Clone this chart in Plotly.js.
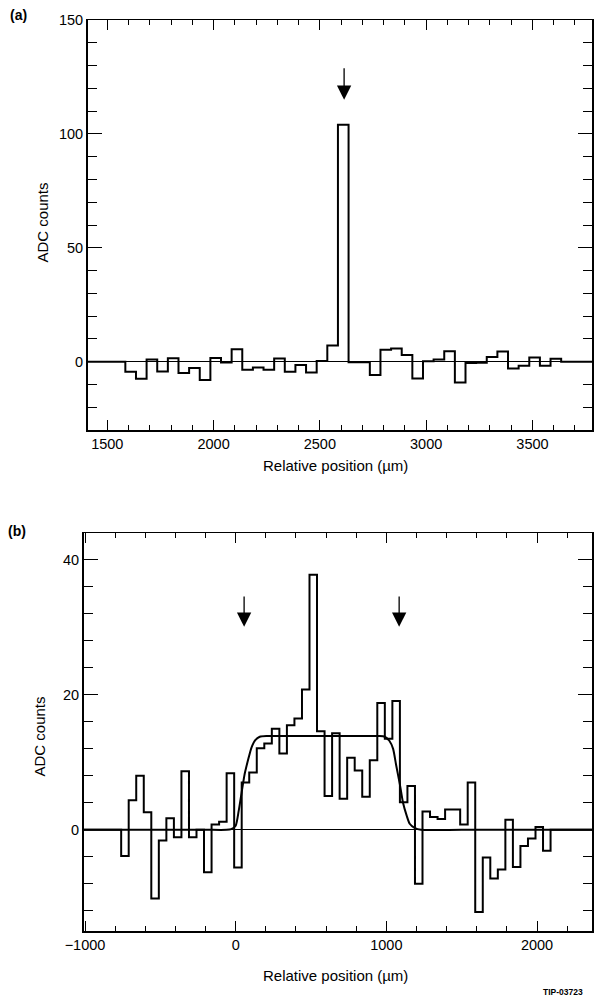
<!DOCTYPE html>
<html>
<head>
<meta charset="utf-8">
<script src="https://cdn.plot.ly/plotly-3.0.1.min.js"></script>
<style>html,body{margin:0;padding:0;background:#fff;}#chart{width:596px;height:1000px;}</style>
</head>
<body>
<div id="chart"></div>
<script>
// ---------- Panel (a) data ----------
const binWidthA = 50;
const centersA = [1610,1660,1710,1760,1810,1860,1910,1960,2010,2060,2110,2160,2210,2260,2310,2360,2410,2460,2510,2560,2610,2660,2710,2760,2810,2860,2910,2960,3010,3060,3110,3160,3210,3260,3310,3360,3410,3460,3510,3560,3610];
const countsA = [-4.4,-7.5,1.0,-4.3,1.5,-5.0,-2.8,-8.0,1.6,-0.4,5.4,-3.5,-2.6,-3.5,1.4,-4.4,-1.5,-4.8,0.3,7.1,104,-0.3,-0.3,-5.9,5.2,5.8,2.9,-7.4,0.2,1.0,4.6,-9.1,-0.6,-0.5,2.0,4.5,-3.0,-1.8,1.8,-1.8,1.3];
const rangeXA = [1407, 3780];
const rangeYA = [-30, 150];
const arrowA = {x: 2614, tip: 115, tail: 129.5};

// ---------- Panel (b) data ----------
const binWidthB = 50;
const centersB = [-735,-685,-635,-585,-535,-485,-435,-385,-335,-285,-235,-185,-135,-85,-35,15,65,115,165,215,265,315,365,415,465,515,565,615,665,715,765,815,865,915,965,1015,1065,1115,1165,1215,1265,1315,1365,1415,1465,1515,1565,1615,1665,1715,1765,1815,1865,1915,1965,2015,2065];
const countsB = [-3.9,4.4,8.0,2.6,-10.2,-1.6,1.7,-1.1,8.7,-1.1,0,-6.3,0.8,1.2,8.4,-5.6,7.0,8.5,12.1,12.8,15.0,11.3,15.5,16.5,20.8,37.8,14.6,5.0,14.3,4.6,10.7,8.8,4.9,10.3,18.8,13.5,19.1,4.1,6.5,-8.0,2.7,1.9,1.6,3.0,3.0,0.8,7.0,-12.2,-4.1,-7.2,-5.9,1.5,-5.5,-2.4,-1.3,0.4,-3.1];
const fitX = [-1010,-200,-60,-30,0,20,40,60,85,105,130,160,210,400,700,950,990,1020,1045,1065,1090,1110,1135,1155,1190,1230,1500,2365];
const fitY = [0,0,0,0.1,0.6,2.8,5.6,8.3,10.6,12.2,13.3,13.8,13.9,13.9,13.9,13.9,13.8,13.2,12.0,9.6,6.7,4.1,2.1,0.9,0.25,0,0,0];
const rangeXB = [-1010, 2365];
const rangeYB = [-15, 44];
const arrowsB = [{x: 56, tip: 30.1, tail: 34.8}, {x: 1085, tip: 30.1, tail: 34.8}];

const xTitle = 'Relative position (µm)';
const yTitle = 'ADC counts';

// Build step outline (zero outside the binned region)
function stepTrace(centers, counts, width, range) {
  const xs = [range[0]], ys = [0];
  for (let i = 0; i < centers.length; i++) { xs.push(centers[i] - width / 2); ys.push(counts[i]); }
  xs.push(centers[centers.length - 1] + width / 2); ys.push(0);
  xs.push(range[1]); ys.push(0);
  return xs.map((v, i) => [v, ys[i]]);
}
const sA = stepTrace(centersA, countsA, binWidthA, rangeXA);
const sB = stepTrace(centersB, countsB, binWidthB, rangeXB);

const FONT = 'Liberation Sans, Arial, Helvetica, sans-serif';

const traces = [
  {x: sA.map(p => p[0]), y: sA.map(p => p[1]), type: 'scatter', mode: 'lines',
   line: {color: '#000', width: 2, shape: 'hv'}, xaxis: 'x', yaxis: 'y', hoverinfo: 'skip'},
  {x: sB.map(p => p[0]), y: sB.map(p => p[1]), type: 'scatter', mode: 'lines',
   line: {color: '#000', width: 2, shape: 'hv'}, xaxis: 'x2', yaxis: 'y2', hoverinfo: 'skip'},
  {x: fitX, y: fitY, type: 'scatter', mode: 'lines',
   line: {color: '#000', width: 2, shape: 'spline', smoothing: 0.6}, xaxis: 'x2', yaxis: 'y2', hoverinfo: 'skip'}
];

function xAxis(domain, range, dtick, minor, anchor) {
  return {domain, range, anchor, dtick, tick0: 0, ticks: 'inside', ticklen: 10, tickwidth: 1, tickcolor: '#000',
    minor: {dtick: minor, tick0: 0, ticks: 'inside', ticklen: 5, tickwidth: 1, tickcolor: '#000', showgrid: false},
    showline: true, linecolor: '#000', linewidth: 1.5, mirror: 'allticks', showgrid: false, zeroline: false,
    tickfont: {family: FONT, size: 14.5, color: '#000'}, automargin: false, fixedrange: true};
}
function yAxis(domain, range, dtick, minor, anchor) {
  return {domain, range, anchor, dtick, tick0: 0, ticks: 'inside', ticklen: 14, tickwidth: 1, tickcolor: '#000',
    minor: {dtick: minor, tick0: 0, ticks: 'inside', ticklen: 9, tickwidth: 1, tickcolor: '#000', showgrid: false},
    showline: true, linecolor: '#000', linewidth: 1.5, mirror: 'allticks', showgrid: false,
    zeroline: true, zerolinecolor: '#000', zerolinewidth: 1,
    tickfont: {family: FONT, size: 14.5, color: '#000'}, automargin: false, fixedrange: true};
}

const W = 596, H = 1000;
const px = v => v / W, py = v => 1 - v / H;

const ann = [];
function txt(text, x, y, size, bold, angle) {
  ann.push({text: bold ? '<b>' + text + '</b>' : text, x: px(x), y: py(y), xref: 'paper', yref: 'paper',
    showarrow: false, xanchor: 'center', yanchor: 'middle', textangle: angle || 0,
    font: {family: FONT, size, color: '#000'}});
}
txt(xTitle, 335, 465, 15);
txt(xTitle, 335, 975, 15);
txt(yTitle, 42.5, 223, 15, false, -90);
txt(yTitle, 38.5, 737, 15, false, -90);
txt('(a)', 18, 15, 14, true);
txt('(b)', 17, 531, 14, true);
txt('TIP-03723', 563, 992, 8.5, true);

function arrow(a, xr, yr) {
  ann.push({x: a.x, y: a.tip, ax: a.x, ay: a.tail, xref: xr, yref: yr, axref: xr, ayref: yr,
    text: '', showarrow: true, arrowhead: 2, arrowsize: 2.2, arrowwidth: 1.3, arrowcolor: '#000'});
}
arrow(arrowA, 'x', 'y');
arrowsB.forEach(a => arrow(a, 'x2', 'y2'));

const layout = {
  width: W, height: H, margin: {l: 0, r: 0, t: 0, b: 0},
  paper_bgcolor: '#fff', plot_bgcolor: '#fff', showlegend: false,
  xaxis: xAxis([87.5 / W, 592 / W], rangeXA, 500, 100, 'y'),
  yaxis: yAxis([py(430), py(20)], rangeYA, 50, 10, 'x'),
  xaxis2: xAxis([83.5 / W, 592 / W], rangeXB, 1000, 200, 'y2'),
  yaxis2: yAxis([py(931), py(533)], rangeYB, 20, 4, 'x2'),
  annotations: ann
};

Plotly.newPlot('chart', traces, layout, {staticPlot: true, displayModeBar: false});
</script>
</body>
</html>
